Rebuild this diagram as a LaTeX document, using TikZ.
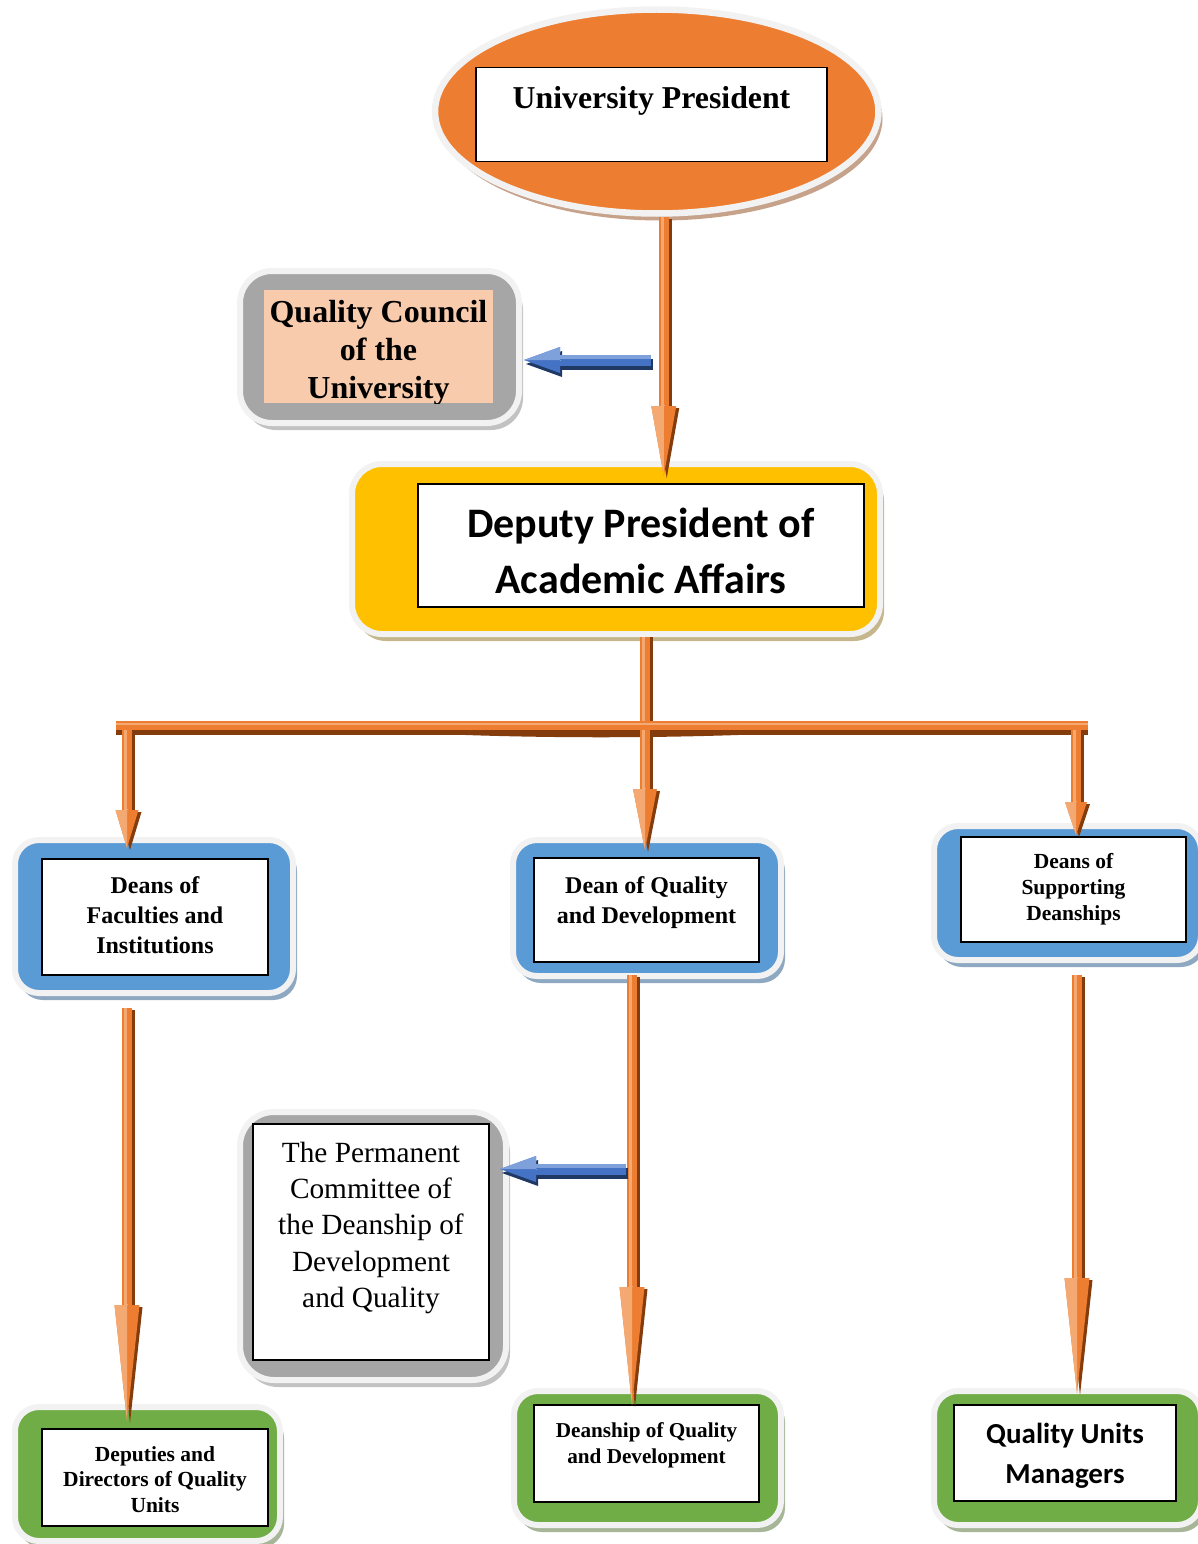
\documentclass[tikz,border=0pt]{standalone}
\usepackage{fontspec}
\setmainfont{Liberation Serif}
\newfontfamily\calibri{Carlito}
\usetikzlibrary{shapes.geometric,shadows,arrows.meta,calc}

\definecolor{ovalC}{HTML}{ED7D31}
\definecolor{ovalS}{HTML}{C7A28B}
\definecolor{ringC}{HTML}{F2F2F2}
\definecolor{yellowC}{HTML}{FFC000}
\definecolor{yellowS}{HTML}{C6B68C}
\definecolor{blueC}{HTML}{5B9BD5}
\definecolor{blueS}{HTML}{8EA8C2}
\definecolor{greenC}{HTML}{70AD47}
\definecolor{greenS}{HTML}{A7B598}
\definecolor{grayC}{HTML}{A6A6A6}
\definecolor{grayS}{HTML}{C2C2C2}
\definecolor{peachC}{HTML}{F8CBAD}
\definecolor{arrowO}{HTML}{ED7D31}
\definecolor{arrowL}{HTML}{F4A872}
\definecolor{arrowD}{HTML}{843C0C}
\definecolor{blueA}{HTML}{4472C4}
\definecolor{blueAL}{HTML}{7FA1DB}
\definecolor{navyD}{HTML}{203864}

\tikzset{
  panel/.style n args={2}{fill=#1, draw=ringC, line width=6pt, rounded corners=24pt,
    inner sep=0pt, outer sep=0pt,
    drop shadow={shadow xshift=4pt,shadow yshift=-7pt,fill=#2,opacity=1}},
  whitebox/.style={fill=white, draw=black, line width=1.6pt, inner sep=0pt, outer sep=0pt},
}

% fixed-size text cell: width, height, top gap, content
\newcommand\cell[4]{\parbox[c][#2pt][t]{#1pt}{\centering\vspace*{#3pt}#4\par}}

% orange 3-D arrow: from, to, head length, head width
\newcommand\oarrow[4]{%
  \draw[arrowD, line width=10pt, -{Triangle[length=#3pt,width=#4pt,line width=0pt]}]
    ([shift={(3pt,-2pt)}]#1) -- ([shift={(3pt,-2pt)}]#2);
  \draw[arrowO, line width=10pt, -{Triangle[length=#3pt,width=#4pt,line width=0pt]}]
    (#1) -- (#2);
  \draw[arrowL, line width=3pt] ([xshift=-1.5pt]#1) -- ([xshift=-1.5pt,yshift=#3pt]#2);
  \draw[arrowL, line width=0.1pt, -{Triangle[length=#3pt,width=#4pt,line width=0pt,right]}]
    ([yshift=#3pt+1pt]#2) -- (#2);
}
% blue 3-D arrow pointing left: from, to
\newcommand\barrow[2]{%
  \draw[navyD, line width=11pt, -{Triangle[length=36pt,width=26pt,line width=0pt]}]
    ([shift={(2pt,-4pt)}]#1) -- ([shift={(2pt,-4pt)}]#2);
  \draw[blueA, line width=11pt, -{Triangle[length=36pt,width=26pt,line width=0pt]}]
    (#1) -- (#2);
  \draw[blueAL, line width=3.5pt] ([yshift=3pt]#1) -- ([yshift=3pt,xshift=36pt]#2);
  \draw[blueAL, line width=0.1pt, -{Triangle[length=36pt,width=26pt,line width=0pt,right]}]
    ([xshift=37pt]#2) -- (#2);
}

\begin{document}
\begin{tikzpicture}[x=1pt,y=-1pt]
\useasboundingbox (0,0) rectangle (1198,1544);

% ---------- top: president ----------
\node[ellipse, fill=ovalC, draw=ringC, line width=6.5pt, inner sep=0pt, outer sep=0pt,
      minimum width=443.5pt, minimum height=204pt,
      drop shadow={shadow xshift=4pt,shadow yshift=-7pt,fill=ovalS,opacity=1}]
      (presE) at (656.75,111.5) {};
\node[whitebox] (pres) at (651.5,114.5)
  {\cell{351}{94}{14.4}{\fontsize{31.8}{38}\selectfont\bfseries\strut University President}};

% ---------- quality council ----------
\node[panel={grayC}{grayS}, rounded corners=32pt, minimum width=279pt, minimum height=152pt]
  (councilF) at (379.5,347) {};
\begin{scope}
  \clip (264,290) rectangle (493,403);
  \node[fill=peachC, inner sep=0pt, outer sep=0pt] (council) at (378.5,346.5)
    {\cell{229}{113}{5.4}{\fontsize{32}{38}\selectfont\bfseries\strut Quality Council\\of the\\University}};
\end{scope}

% ---------- deputy president ----------
\node[panel={yellowC}{yellowS}, rounded corners=30pt, minimum width=528pt, minimum height=170pt]
  (depF) at (616,549) {};
\node[whitebox] (dep) at (641,545.5)
  {\cell{446}{123}{13.8}{\calibri\fontsize{42}{56}\selectfont\bfseries\strut Deputy President of\\Academic Affairs}};

% ---------- middle row ----------
\node[panel={blueC}{blueS}, minimum width=278pt, minimum height=153pt] (facF) at (154,916.5) {};
\node[whitebox] (fac) at (155,917)
  {\cell{226}{116}{13}{\fontsize{24}{30}\selectfont\bfseries\strut Deans of\\Faculties and\\Institutions}};

\node[panel={blueC}{blueS}, minimum width=268pt, minimum height=136pt] (dqF) at (647,908) {};
\node[whitebox] (dq) at (646.5,910)
  {\cell{225}{104}{14}{\fontsize{24}{30}\selectfont\bfseries\strut Dean of Quality\\and Development}};

\node[panel={blueC}{blueS}, minimum width=267pt, minimum height=134pt] (supF) at (1067.5,893) {};
\node[whitebox] (sup) at (1073.5,889.5)
  {\cell{225}{105}{12.8}{\fontsize{21.5}{26}\selectfont\bfseries\strut Deans of\\Supporting\\Deanships}};

% ---------- permanent committee ----------
\node[panel={grayC}{grayS}, rounded corners=34pt, minimum width=266pt, minimum height=268pt]
  (permF) at (373,1246) {};
\node[whitebox] (perm) at (371,1242)
  {\cell{236}{236}{12.6}{\fontsize{29.3}{36.4}\selectfont\strut The Permanent\\Committee of\\the Deanship of\\Development\\and Quality}};

% ---------- bottom row ----------
\node[panel={greenC}{greenS}, minimum width=265pt, minimum height=134pt] (depuF) at (147.5,1474) {};
\node[whitebox] (depu) at (155,1477.5)
  {\cell{226}{97}{14}{\fontsize{21.5}{25.7}\selectfont\bfseries\strut Deputies and\\Directors of Quality\\Units}};

\node[panel={greenC}{greenS}, minimum width=267pt, minimum height=134pt] (dsF) at (647.5,1458) {};
\node[whitebox] (ds) at (646.5,1453.5)
  {\cell{225}{97}{13.8}{\fontsize{21.2}{26}\selectfont\bfseries\strut Deanship of Quality\\and Development}};

\node[panel={greenC}{greenS}, minimum width=267pt, minimum height=134pt] (qmF) at (1067.5,1458) {};
\node[whitebox] (qm) at (1065,1453)
  {\cell{222}{96}{10}{\calibri\fontsize{29}{40}\selectfont\bfseries\strut Quality Units\\Managers}};

% ---------- connector end points ----------
\coordinate (pa) at ($(presE.south)+(7,3)$);
\coordinate (pb) at ($(pa |- depF.north)+(0,12)$);
\coordinate (qb) at ($(councilF.east)+(5,13)$);
\coordinate (qa) at ($(qb)+(127,0)$);
\coordinate (dp1) at ($(depF.south)+(29,3)$);
\coordinate (barL) at (116,725.5);
\coordinate (barR) at (1088,725.5);
\coordinate (dp2) at (dp1 |- barL);
\coordinate (b1) at ($(barL)+(11,4)$);
\coordinate (b1t) at ($(b1 |- facF.north)+(0,8)$);
\coordinate (b2) at (dp1 |- b1);
\coordinate (b2t) at ($(b2 |- dqF.north)+(0,10)$);
\coordinate (b3) at ($(barR)+(-12,4)$);
\coordinate (b3t) at ($(b3 |- supF.north)+(0,9)$);
\coordinate (c1) at ($(facF.south)+(-27,15)$);
\coordinate (c1t) at ($(c1 |- depuF.north)+(0,14)$);
\coordinate (c2) at ($(dqF.south)+(-15,-1)$);
\coordinate (c2t) at ($(c2 |- dsF.north)+(0,14)$);
\coordinate (c3) at ($(supF.south)+(9.5,15)$);
\coordinate (c3t) at ($(c3 |- qmF.north)+(0,2)$);
\coordinate (rb) at ($(permF.east)+(-6,-77)$);
\coordinate (ra) at ($(rb)+(126,0)$);

% ---------- connectors ----------
\oarrow{pa}{pb}{70}{25}
\barrow{qa}{qb}

% trunk from the deputy to the branching bar
\draw[arrowD, line width=10pt] ([xshift=3pt]dp1) -- ([xshift=3pt]dp2);
\draw[arrowO, line width=10pt] (dp1) -- (dp2);
\draw[arrowL, line width=3pt] ([xshift=-1.5pt]dp1) -- ([xshift=-1.5pt]dp2);

% branching bar
\fill[arrowD] (352,729) .. controls (500,740) and (700,740) .. (856,729) -- cycle;
\draw[arrowD, line width=9pt] ([yshift=-4.5pt]barL) -- ([yshift=-4.5pt]barR);
\draw[arrowO, line width=9pt] (barL) -- (barR);
\draw[arrowL, line width=2.5pt] ([yshift=1.5pt]barL) -- ([yshift=1.5pt]barR);

\oarrow{b1}{b1t}{38}{23}
\oarrow{b2}{b2t}{61}{24}
\oarrow{b3}{b3t}{33}{22}

\oarrow{c1}{c1t}{116}{25}
\oarrow{c2}{c2t}{118}{25}
\oarrow{c3}{c3t}{115}{25}
\barrow{ra}{rb}

\end{tikzpicture}
\end{document}
